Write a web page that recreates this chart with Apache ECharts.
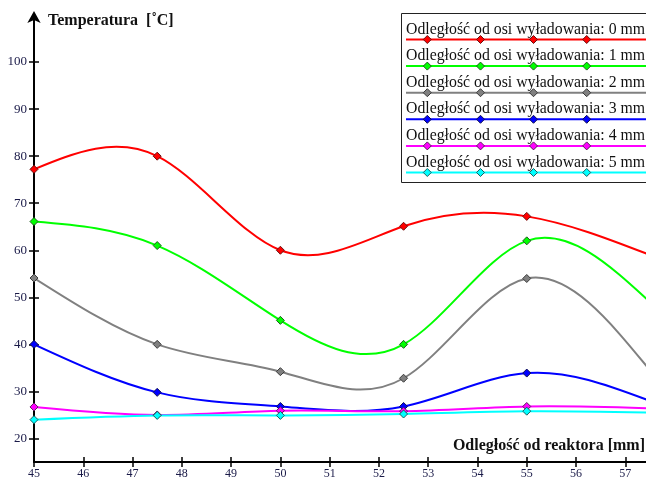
<!DOCTYPE html>
<html>
<head>
<meta charset="utf-8">
<script src="https://cdn.jsdelivr.net/npm/echarts@6/dist/echarts.min.js"></script>
<style>
html,body{margin:0;padding:0;background:#fff;}
#c{width:646px;height:480px;}
</style>
</head>
<body>
<div id="c"></div>
<script>
const xValues = [45, 47.5, 50, 52.5, 55, 57.5];
const seriesNames = [
  'Odległość od osi wyładowania: 0 mm',
  'Odległość od osi wyładowania: 1 mm',
  'Odległość od osi wyładowania: 2 mm',
  'Odległość od osi wyładowania: 3 mm',
  'Odległość od osi wyładowania: 4 mm',
  'Odległość od osi wyładowania: 5 mm'
];
const s0 = [77.2, 80, 60, 65.1, 67.2, 59];
const s1 = [66.1, 61, 45.1, 40, 62, 49];
const s2 = [54.1, 40, 34.2, 32.8, 54, 34.5];
const s3 = [40, 29.8, 26.8, 26.8, 33.9, 28];
const s4 = [26.7, 25.0, 25.9, 25.8, 26.8, 26.4];
const s5 = [24.0, 24.9, 24.9, 25.2, 25.8, 25.5];
const yTicks = [20, 30, 40, 50, 60, 70, 80, 90, 100];
const xTicks = [45, 46, 47, 48, 49, 50, 51, 52, 53, 54, 55, 56, 57];
const yTitle = 'Temperatura  [˚C]';
const xTitle = 'Odległość od reaktora [mm]';

const allSeries = [s0, s1, s2, s3, s4, s5];
const colors = ['#ff0000', '#00ff00', '#808080', '#0000ff', '#ff00ff', '#00ffff'];
const borderColors = ['#6a1010', '#1f5a1f', '#3a3a3a', '#101050', '#5a205a', '#206060'];

// natural cubic spline slopes at the data points (curve rendering only)
function splineSlopes(xs, ys) {
  const n = xs.length;
  const h = [];
  for (let i = 0; i < n - 1; i++) h.push(xs[i + 1] - xs[i]);
  const M = new Array(n).fill(0);
  if (n > 2) {
    const a = [], b = [], c = [], d = [];
    for (let i = 1; i < n - 1; i++) {
      a.push(h[i - 1]); b.push(2 * (h[i - 1] + h[i])); c.push(h[i]);
      d.push(6 * ((ys[i + 1] - ys[i]) / h[i] - (ys[i] - ys[i - 1]) / h[i - 1]));
    }
    const m = b.length;
    for (let i = 1; i < m; i++) {
      const w = a[i] / b[i - 1];
      b[i] -= w * c[i - 1];
      d[i] -= w * d[i - 1];
    }
    const sol = new Array(m);
    sol[m - 1] = d[m - 1] / b[m - 1];
    for (let i = m - 2; i >= 0; i--) sol[i] = (d[i] - c[i] * sol[i + 1]) / b[i];
    for (let i = 0; i < m; i++) M[i + 1] = sol[i];
  }
  const left = [], right = [];
  for (let i = 0; i < n - 1; i++) {
    const s = (ys[i + 1] - ys[i]) / h[i];
    left.push(s - h[i] * (2 * M[i] + M[i + 1]) / 6);
    right.push(s + h[i] * (M[i] + 2 * M[i + 1]) / 6);
  }
  return { left, right };
}

const chart = echarts.init(document.getElementById('c'));

const series = [];
allSeries.forEach((vals, i) => {
  const sl = splineSlopes(xValues, vals);
  series.push({
    name: seriesNames[i] + ' curve',
    type: 'custom',
    clip: true,
    silent: true,
    z: 2,
    data: vals.map((v, j) => [xValues[j], v]),
    renderItem: function (params, api) {
      const j = params.dataIndex;
      if (j >= vals.length - 1) return null;
      const x0 = xValues[j], x1 = xValues[j + 1];
      const y0 = vals[j], y1 = vals[j + 1];
      const hh = x1 - x0;
      const p0 = api.coord([x0, y0]);
      const p1 = api.coord([x1, y1]);
      const c0 = api.coord([x0 + hh / 3, y0 + sl.left[j] * hh / 3]);
      const c1 = api.coord([x1 - hh / 3, y1 - sl.right[j] * hh / 3]);
      return {
        type: 'bezierCurve',
        shape: { x1: p0[0], y1: p0[1], x2: p1[0], y2: p1[1], cpx1: c0[0], cpy1: c0[1], cpx2: c1[0], cpy2: c1[1] },
        style: { stroke: colors[i], lineWidth: 2, fill: null }
      };
    }
  });
});
allSeries.forEach((vals, i) => {
  series.push({
    name: seriesNames[i],
    type: 'scatter',
    clip: true,
    z: 3,
    data: vals.map((v, j) => [xValues[j], v]),
    symbol: 'diamond',
    symbolSize: [8, 8],
    itemStyle: { color: colors[i], borderColor: borderColors[i], borderWidth: 1, opacity: 1 },
    emphasis: { disabled: true }
  });
});

// legend built as graphics
const legendGraphics = [];
const lx0 = 401, ly0 = 13, rowH = 26.6;
legendGraphics.push({
  type: 'rect', left: lx0, top: ly0, z: 50,
  shape: { width: 260, height: 169 },
  style: { fill: '#fff', stroke: '#222', lineWidth: 1 }
});
seriesNames.forEach((name, i) => {
  const lineY = 39.5 + rowH * i;
  legendGraphics.push({
    type: 'text', x: 406, y: lineY - 2, z: 51,
    style: { text: name, font: '15.8px "Liberation Serif"', fill: '#111', textVerticalAlign: 'bottom' }
  });
  legendGraphics.push({
    type: 'line', z: 51,
    shape: { x1: 406, y1: lineY, x2: 646, y2: lineY },
    style: { stroke: colors[i], lineWidth: 2 }
  });
  [427.3, 480.5, 533.5, 586.7].forEach(mx => {
    legendGraphics.push({
      type: 'polygon', z: 52,
      shape: { points: [[mx, lineY - 4], [mx + 4, lineY], [mx, lineY + 4], [mx - 4, lineY]] },
      style: { fill: colors[i], stroke: borderColors[i], lineWidth: 1 }
    });
  });
});
legendGraphics.push({
  type: 'text', x: 48, y: 21, z: 40,
  style: { text: yTitle, font: 'bold 16px "Liberation Serif"', fill: '#111', textVerticalAlign: 'middle' }
});
legendGraphics.push({
  type: 'text', x: 645, y: 446, z: 40,
  style: { text: xTitle, font: 'bold 16px "Liberation Serif"', fill: '#111', textAlign: 'right', textVerticalAlign: 'middle' }
});

const labelFont = { fontFamily: 'Liberation Serif', color: '#1a1a48' };

const option = {
  animation: false,
  backgroundColor: '#fff',
  grid: { left: 34, right: 0, top: 15, bottom: 18, containLabel: false },
  xAxis: [
    {
      type: 'value', min: 45, max: 57.42, interval: 1,
      axisLine: { show: true, lineStyle: { color: '#000', width: 2 } },
      axisTick: { show: true, length: 5, inside: false, customValues: xTicks, lineStyle: { color: '#000', width: 1.5 } },
      axisLabel: Object.assign({ show: true, fontSize: 12, margin: 6, customValues: xTicks }, labelFont),
      splitLine: { show: false }
    },
    {
      type: 'value', min: 45, max: 57.42, interval: 1, position: 'bottom',
      axisLine: { show: false },
      axisTick: { show: true, length: 5, inside: true, customValues: xTicks, lineStyle: { color: '#000', width: 1.5 } },
      axisLabel: { show: false },
      splitLine: { show: false }
    }
  ],
  yAxis: [
    {
      type: 'value', min: 15, max: 110,
      axisLine: { show: true, symbol: ['none', 'arrow'], symbolSize: [10, 12], symbolOffset: [0, 4],
        lineStyle: { color: '#000', width: 2 } },
      axisTick: { show: true, length: 5, inside: false, customValues: yTicks, lineStyle: { color: '#000', width: 1.5 } },
      axisLabel: Object.assign({ show: true, fontSize: 13, margin: 7, customValues: yTicks }, labelFont),
      splitLine: { show: false }
    },
    {
      type: 'value', min: 15, max: 110, position: 'left',
      axisLine: { show: false },
      axisTick: { show: true, length: 5, inside: true, customValues: yTicks, lineStyle: { color: '#000', width: 1.5 } },
      axisLabel: { show: false },
      splitLine: { show: false }
    }
  ],
  series: series,
  graphic: legendGraphics
};
chart.setOption(option);
</script>
</body>
</html>
